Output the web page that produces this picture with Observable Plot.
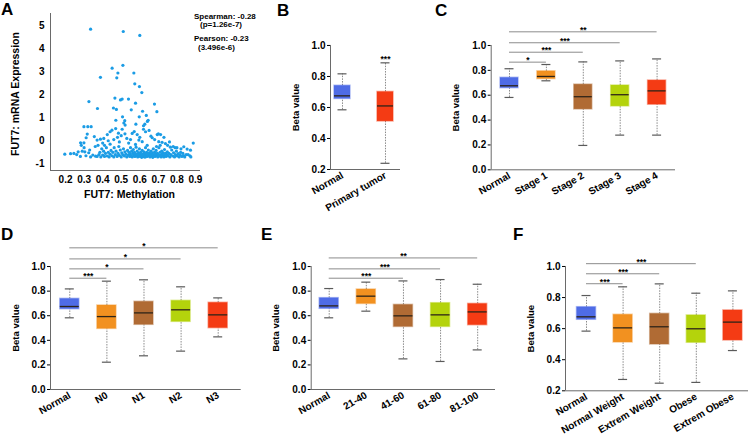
<!DOCTYPE html>
<html><head><meta charset="utf-8">
<script src="https://cdn.jsdelivr.net/npm/d3@7"></script>
<script src="https://cdn.jsdelivr.net/npm/@observablehq/plot@0.6"></script>
<style>
body{margin:0;background:#fff;}
#fig{position:relative;width:753px;height:434px;overflow:hidden;font-family:"Liberation Sans",Arial,sans-serif;color:#000;background:#fff;}
.letter{position:absolute;font-weight:bold;font-size:17px;line-height:17px;}
.stat{position:absolute;font-weight:bold;font-size:8px;line-height:10px;white-space:nowrap;}
</style></head><body><div id="fig"></div>
<script>
// ---------- DATA ----------
// Panel A: FUT7 methylation (x) vs mRNA expression (y)
const scatterPoints = [
[0.335,4.84],[0.511,4.74],[0.600,4.57],[0.451,3.15],[0.509,3.27],[0.482,2.94],[0.388,2.75],[0.476,2.73],[0.568,2.94],[0.573,2.47],
[0.598,2.35],[0.611,2.09],[0.466,1.85],[0.505,1.81],[0.496,1.77],[0.539,1.81],[0.326,1.70],[0.577,1.63],[0.679,1.59],[0.372,1.40],
[0.458,1.42],[0.474,1.36],[0.554,1.34],[0.615,1.28],[0.692,1.26],[0.635,1.10],[0.597,1.04],[0.507,1.04],[0.641,0.84],[0.519,0.87],
[0.514,0.77],[0.521,0.68],[0.471,0.89],[0.579,0.72],[0.627,0.72],[0.645,0.89],[0.620,0.65],
[0.299,0.61],[0.320,0.61],[0.338,0.61],[0.317,0.29],[0.311,0.13],[0.281,-0.09],[0.299,-0.09],[0.388,0.07],[0.406,0.10],
[0.370,0.03],[0.425,0.27],[0.440,0.39],[0.450,0.46],[0.470,0.53],[0.559,0.32],[0.586,0.27],[0.631,0.39],[0.694,0.27],[0.712,0.27],
[0.667,0.13],[0.702,-0.04],[0.720,-0.07],[0.738,-0.12],[0.595,0.03],[0.613,-0.04],[0.577,-0.16],[0.888,-0.10],[0.837,-0.26],[0.855,-0.36],
[0.873,-0.41],[0.460,0.05],[0.480,0.15],[0.490,-0.05],[0.500,0.22],[0.520,0.30],[0.530,0.10],[0.540,-0.10],[0.505,0.50],[0.485,0.33],
[0.440,-0.15],[0.410,-0.20],[0.355,0.18],[0.360,-0.25],[0.430,0.00],[0.620,0.50],[0.650,0.45],[0.660,0.20],[0.680,0.05],[0.640,-0.20],
[0.600,0.15],[0.570,0.40],[0.550,0.05],[0.700,0.30],[0.750,-0.20],[0.780,-0.25],[0.800,-0.30],[0.730,0.15],[0.760,-0.05],
[0.196,-0.58],[0.227,-0.56],[0.245,-0.55],[0.268,-0.48],[0.290,-0.45],[0.304,-0.48],[0.325,-0.52],[0.347,-0.62],[0.362,-0.67],[0.260,-0.60],
[0.280,-0.68],[0.310,-0.65],[0.335,-0.70],[0.300,-0.30],[0.330,-0.40],[0.285,-0.20],
[0.370,-0.68],[0.380,-0.60],[0.385,-0.50],[0.390,-0.70],[0.395,-0.35],[0.400,-0.62],[0.405,-0.45],[0.410,-0.68],[0.415,-0.55],[0.420,-0.30],
[0.425,-0.66],[0.430,-0.50],[0.435,-0.70],[0.440,-0.58],[0.445,-0.42],[0.450,-0.65],[0.375,-0.20],[0.400,-0.10],
[0.455,-0.50],[0.460,-0.70],[0.462,-0.30],[0.468,-0.60],[0.472,-0.45],[0.478,-0.68],[0.483,-0.55],[0.487,-0.25],[0.490,-0.63],[0.495,-0.40],
[0.500,-0.70],[0.503,-0.52],[0.508,-0.60],[0.512,-0.35],[0.517,-0.66],[0.520,-0.48],[0.525,-0.58],[0.530,-0.70],[0.534,-0.42],[0.538,-0.62],
[0.542,-0.50],[0.546,-0.68],[0.550,-0.30],[0.548,-0.56],
[0.553,-0.64],[0.556,-0.45],[0.559,-0.70],[0.562,-0.55],[0.565,-0.38],[0.568,-0.62],[0.571,-0.50],[0.574,-0.68],[0.577,-0.58],[0.580,-0.28],
[0.583,-0.65],[0.586,-0.45],[0.589,-0.70],[0.592,-0.55],[0.595,-0.62],[0.598,-0.35],[0.601,-0.68],[0.604,-0.50],[0.607,-0.60],[0.610,-0.72],
[0.613,-0.42],[0.616,-0.58],[0.619,-0.66],[0.622,-0.48],[0.625,-0.70],[0.628,-0.55],[0.631,-0.30],[0.634,-0.63],[0.637,-0.50],[0.640,-0.68],
[0.643,-0.58],[0.646,-0.40],[0.649,-0.65],[0.580,-0.60],[0.600,-0.58],[0.620,-0.60],[0.640,-0.60],[0.570,-0.66],[0.610,-0.64],[0.630,-0.70],
[0.652,-0.52],[0.655,-0.70],[0.658,-0.60],[0.661,-0.45],[0.664,-0.66],[0.667,-0.55],[0.670,-0.72],[0.673,-0.35],[0.676,-0.62],[0.679,-0.50],
[0.682,-0.68],[0.685,-0.58],[0.688,-0.42],[0.691,-0.65],[0.694,-0.55],[0.697,-0.70],[0.700,-0.60],[0.703,-0.30],[0.706,-0.66],[0.709,-0.50],
[0.712,-0.62],[0.715,-0.70],[0.718,-0.45],[0.721,-0.58],[0.724,-0.66],[0.727,-0.52],[0.730,-0.70],[0.733,-0.38],[0.736,-0.62],[0.739,-0.55],
[0.742,-0.68],[0.745,-0.60],[0.748,-0.48],[0.660,-0.62],[0.680,-0.60],[0.700,-0.66],[0.720,-0.60],[0.740,-0.64],[0.690,-0.25],[0.710,-0.20],
[0.752,-0.65],[0.757,-0.55],[0.762,-0.70],[0.767,-0.60],[0.772,-0.40],[0.777,-0.66],[0.782,-0.52],[0.787,-0.70],[0.792,-0.60],[0.797,-0.45],
[0.802,-0.66],[0.807,-0.56],[0.812,-0.70],[0.817,-0.62],[0.822,-0.35],[0.827,-0.68],[0.832,-0.55],[0.837,-0.65],[0.842,-0.70],[0.850,-0.60],
[0.860,-0.60],[0.870,-0.65],[0.875,-0.70],[0.820,-0.50],[0.790,-0.30],[0.765,-0.28]
];
const scatterXTicks = [0.2,0.3,0.4,0.5,0.6,0.7,0.8,0.9];
const scatterYTicks = [-1,0,1,2,3,4,5];
const statLines = ["Spearman: -0.28","(p=1.26e-7)","Pearson: -0.23","(3.496e-6)"];

// Panel B
const bCats = ["Normal","Primary tumor"];
const bLow  = [0.585,0.240];
const bQ1   = [0.655,0.510];
const bMed  = [0.675,0.610];
const bQ3   = [0.740,0.700];
const bHigh = [0.817,0.888];
const bStar = "***";

// Panel C
const cCats = ["Normal","Stage 1","Stage 2","Stage 3","Stage 4"];
const cLow  = [0.582,0.716,0.196,0.279,0.279];
const cQ1   = [0.657,0.730,0.486,0.510,0.524];
const cMed  = [0.676,0.751,0.588,0.604,0.635];
const cQ3   = [0.740,0.792,0.685,0.678,0.718];
const cHigh = [0.813,0.847,0.868,0.876,0.892];
const cSigTo = [1,2,3,4];
const cSigLabel = ["*","***","***","**"];
const cSigLevel = [0.866,0.946,1.022,1.110];

// Panel D
const dCats = ["Normal","N0","N1","N2","N3"];
const dLow  = [0.583,0.222,0.274,0.312,0.428];
const dQ1   = [0.653,0.493,0.526,0.550,0.499];
const dMed  = [0.675,0.593,0.623,0.648,0.607];
const dQ3   = [0.737,0.683,0.713,0.721,0.705];
const dHigh = [0.818,0.881,0.892,0.835,0.745];
const dSigTo = [1,2,3,4];
const dSigLabel = ["***","*","*","*"];
const dSigLevel = [0.905,0.981,1.062,1.152];

// Panel E
const eCats = ["Normal","21-40","41-60","61-80","81-100"];
const eLow  = [0.583,0.637,0.249,0.228,0.322];
const eQ1   = [0.656,0.696,0.509,0.509,0.523];
const eMed  = [0.680,0.759,0.599,0.607,0.631];
const eQ3   = [0.743,0.813,0.688,0.702,0.696];
const eHigh = [0.821,0.873,0.883,0.894,0.856];
const eSigTo = [2,3,4];
const eSigLabel = ["***","***","**"];
const eSigLevel = [0.905,0.981,1.070];

// Panel F
const fCats = ["Normal","Normal Weight","Extrem Weight","Obese","Extrem Obese"];
const fLow  = [0.584,0.273,0.249,0.254,0.459];
const fQ1   = [0.657,0.511,0.498,0.509,0.524];
const fMed  = [0.676,0.605,0.612,0.599,0.642];
const fQ3   = [0.738,0.689,0.695,0.685,0.717];
const fHigh = [0.813,0.869,0.888,0.828,0.843];
const fSigTo = [1,2,3];
const fSigLabel = ["***","***","***"];
const fSigLevel = [0.889,0.953,1.018];

const betaTicks0 = [0,0.2,0.4,0.6,0.8,1.0];
const betaTicks2 = [0.2,0.4,0.6,0.8,1.0];

// ---------- STYLE / LAYOUT ----------
const groupColors = ["#4f6ce6","#f29120","#b06b34","#b4d30c","#f43b14"];
const tumorColors = ["#4f6ce6","#f43b14"];
const FONT = "'Liberation Sans', Arial, Helvetica, sans-serif";
const AXIS = "#6a6a6a";
const fig = document.getElementById("fig");

function place(el, left, top) {
  el.style.position = "absolute";
  el.style.left = left + "px";
  el.style.top = top + "px";
  el.style.overflow = "visible";
  fig.appendChild(el);
}

function boxPanel(cats, low, q1, med, q3, high, colors, ticks, sig, L) {
  const rows = cats.map((c, i) => ({i, c, low: low[i], q1: q1[i], med: med[i], q3: q3[i], high: high[i], color: colors[i]}));
  const hw = L.boxW / 2 / L.step, cw = L.capW / 2 / L.step;
  const marks = [
    Plot.ruleX([L.xdom[0]], {y1: ticks[0], y2: ticks[ticks.length - 1], stroke: AXIS, strokeWidth: 1}),
    Plot.ruleY([L.ydom[0]], {x1: L.xdom[0], x2: L.xdom[1], stroke: AXIS, strokeWidth: 1}),
    Plot.ruleX(rows, {x: "i", y1: "low", y2: "q1", stroke: "#8a8a8a", strokeWidth: 1, strokeDasharray: "1.5,1.2"}),
    Plot.ruleX(rows, {x: "i", y1: "q3", y2: "high", stroke: "#8a8a8a", strokeWidth: 1, strokeDasharray: "1.5,1.2"}),
    Plot.ruleY(rows, {y: "low", x1: d => d.i - cw, x2: d => d.i + cw, stroke: "#5a5a5a", strokeWidth: 1.2}),
    Plot.ruleY(rows, {y: "high", x1: d => d.i - cw, x2: d => d.i + cw, stroke: "#5a5a5a", strokeWidth: 1.2}),
    Plot.rect(rows, {x1: d => d.i - hw, x2: d => d.i + hw, y1: "q1", y2: "q3", fill: "color", stroke: "color", strokeOpacity: 0.45, strokeWidth: 1.5}),
    Plot.ruleY(rows, {y: "med", x1: d => d.i - hw, x2: d => d.i + hw, stroke: "#2e2418", strokeWidth: 1.3}),
    Plot.text(["Beta value"], {x: L.xdom[0], y: (ticks[0] + ticks[ticks.length - 1]) / 2, rotate: -90, dx: -35, fontSize: 9.5, fontWeight: "bold"})
  ];
  if (sig.to) {
    const srows = sig.to.map((t, k) => ({to: t, label: sig.label[k], level: sig.level[k]}));
    marks.push(Plot.ruleY(srows, {y: "level", x1: d => 0, x2: "to", stroke: "#8c8c8c", strokeWidth: 1}));
    marks.push(Plot.text(srows, {x: d => d.to / 2, y: "level", text: "label", dy: 1, lineAnchor: "bottom", fontSize: 8.5, fontWeight: "bold"}));
  } else if (sig.star) {
    marks.push(Plot.text(rows.slice(1), {x: "i", y: "high", text: d => sig.star, dy: -1, lineAnchor: "bottom", fontSize: 8.5, fontWeight: "bold"}));
  }
  const p = Plot.plot({
    width: L.width, height: L.height,
    marginLeft: L.ml, marginRight: L.mr, marginTop: 0, marginBottom: L.mb,
    style: {fontFamily: FONT, fontSize: "10px", fontWeight: "bold", background: "transparent", overflow: "visible", color: "#000"},
    x: {type: "linear", domain: L.xdom, ticks: cats.map((_, i) => i), tickFormat: i => cats[i], tickSize: 0, tickPadding: 5, tickRotate: -30, label: null},
    y: {domain: L.ydom, ticks: ticks, tickFormat: d3.format(".1f"), tickSize: 3, tickPadding: 2, label: null},
    color: {type: "identity"},
    marks
  });
  place(p, L.left, L.top);
}

// ---------- Panel A ----------
{
  const xd = [0.119, 0.927], yd = [-1.29, 5.52];
  const p = Plot.plot({
    width: 260, height: 215, marginLeft: 50, marginRight: 60, marginTop: 13, marginBottom: 45,
    style: {fontFamily: FONT, fontSize: "10px", fontWeight: "bold", background: "transparent", overflow: "visible", color: "#000"},
    x: {domain: xd, ticks: scatterXTicks, tickFormat: d3.format(".1f"), tickSize: 0, tickPadding: 5, label: null},
    y: {domain: yd, ticks: scatterYTicks, tickFormat: d => String(d), tickSize: 0, tickPadding: 6, label: null},
    marks: [
      Plot.ruleX([xd[0]], {stroke: AXIS}),
      Plot.ruleY([yd[0]], {stroke: AXIS}),
      Plot.dot(scatterPoints, {x: d => d[0], y: d => d[1], r: 1.6, fill: "#1b9ce5", stroke: null}),
      Plot.text(["FUT7: Methylation"], {frameAnchor: "bottom", textAnchor: "middle", dy: 27, dx: 4, fontSize: 10.5, fontWeight: "bold"}),
      Plot.text(["FUT7: mRNA Expression"], {frameAnchor: "left", textAnchor: "middle", rotate: -90, dx: -35, dy: 2, fontSize: 10.5, fontWeight: "bold"})
    ]
  });
  place(p, 0, 0);
  const statPos = [[194, 12], [200, 20], [194, 34], [198, 43]];
  statLines.forEach((t, k) => {
    const d = document.createElement("div");
    d.className = "stat"; d.textContent = t;
    d.style.left = statPos[k][0] + "px"; d.style.top = statPos[k][1] + "px";
    fig.appendChild(d);
  });
}

boxPanel(bCats, bLow, bQ1, bMed, bQ3, bHigh, tumorColors, betaTicks2, {star: bStar},
  {left: 230, top: 0, width: 170, height: 215, ml: 100, mr: 0, mb: 46, xdom: [-0.279, 1.349], ydom: [0.2, 1.29], step: 43, boxW: 16, capW: 9});
boxPanel(cCats, cLow, cQ1, cMed, cQ3, cHigh, groupColors, betaTicks0, {to: cSigTo, label: cSigLabel, level: cSigLevel},
  {left: 400, top: 0, width: 353, height: 215, ml: 90.7, mr: 78, mb: 45.7, xdom: [-0.496, 4.499], ydom: [0, 1.362], step: 36.9, boxW: 18, capW: 9});
boxPanel(dCats, dLow, dQ1, dMed, dQ3, dHigh, groupColors, betaTicks0, {to: dSigTo, label: dSigLabel, level: dSigLevel},
  {left: 0, top: 215, width: 250, height: 219, ml: 50, mr: 9.3, mb: 45, xdom: [-0.52, 4.62], ydom: [0, 1.415], step: 37.1, boxW: 19, capW: 9});
boxPanel(eCats, eLow, eQ1, eMed, eQ3, eHigh, groupColors, betaTicks0, {to: eSigTo, label: eSigLabel, level: eSigLevel},
  {left: 250, top: 215, width: 250, height: 219, ml: 60.7, mr: 5, mb: 45, xdom: [-0.485, 4.48], ydom: [0, 1.415], step: 37.1, boxW: 19, capW: 9});
boxPanel(fCats, fLow, fQ1, fMed, fQ3, fHigh, groupColors, betaTicks2, {to: fSigTo, label: fSigLabel, level: fSigLevel},
  {left: 500, top: 215, width: 253, height: 219, ml: 65, mr: 5, mb: 43.7, xdom: [-0.574, 4.426], ydom: [0.2, 1.328], step: 36.6, boxW: 19, capW: 9});

// panel letters
[["A", 1, 1], ["B", 277, 2], ["C", 435, 2], ["D", 1, 226], ["E", 261, 226], ["F", 513, 226]].forEach(([t, x, y]) => {
  const d = document.createElement("div");
  d.className = "letter"; d.textContent = t;
  d.style.left = x + "px"; d.style.top = y + "px";
  fig.appendChild(d);
});
</script></body></html>
